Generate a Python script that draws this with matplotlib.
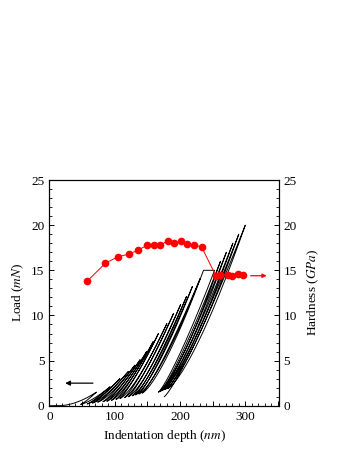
import numpy as np
import matplotlib
matplotlib.use("Agg")
import matplotlib.pyplot as plt
from matplotlib.ticker import MultipleLocator, FuncFormatter

plt.rcParams['font.family'] = ['Liberation Serif', 'DejaVu Serif']
plt.rcParams['mathtext.fontset'] = 'stix'

# multi-cycle load/unload: peaks (depth nm, load mN), and where each unload ends
peak_depth = [72, 93, 108, 121, 131, 139, 149, 159, 167, 180, 190, 201, 210, 219, 231,
              253, 262, 271, 281, 290, 300]
peak_load = [1.5, 2.1, 3.0, 3.8, 4.5, 5.1, 6.0, 7.1, 8.0, 9.1, 10.2, 11.2, 12.1, 13.2, 14.1,
             15.0, 16.0, 17.0, 18.0, 19.0, 20.0]
unload_depth = [48, 58, 66, 74, 82, 88, 95, 102, 108, 115, 121, 127, 132, 137, 142,
                167, 170, 173, 177, 181, 176]
unload_load = [0.15, 0.2, 0.3, 0.4, 0.45, 0.5, 0.6, 0.7, 0.8, 0.9, 1.0, 1.1, 1.2, 1.3, 1.4,
               1.5, 1.6, 1.7, 1.8, 1.9, 1.0]
start_depth = 15      # first contact
hold_load = 15.0      # creep hold segment
hold_from = 236

# hardness vs depth
hard_depth = [58, 86, 105, 122, 135, 150, 160, 170, 181, 191, 201, 211, 221, 233,
              255, 262, 273, 280, 289, 296]
hardness = [13.8, 15.8, 16.5, 16.8, 17.2, 17.8, 17.8, 17.75, 18.3, 18.0, 18.2, 17.9, 17.8, 17.6,
            14.4, 14.45, 14.5, 14.4, 14.6, 14.45]


def segment(h0, p0, h1, p1, m, n=60):
    h = np.linspace(h0, h1, n)
    p = p0 + (p1 - p0) * ((h - h0) / (h1 - h0)) ** m
    return h, p


fig = plt.figure(figsize=(3.49, 4.51), dpi=100)
ax = fig.add_axes([0.1413, 0.1004, 0.657, 0.5004])

# build the continuous load-depth trace
hs = [np.array([0.0, start_depth])]
ps = [np.array([0.0, 0.0])]
h, p = segment(start_depth, 0, peak_depth[0], peak_load[0], 1.8)
hs.append(h); ps.append(p)
for i in range(len(peak_depth)):
    if i > 0:
        if peak_load[i] == hold_load:
            h, p = segment(unload_depth[i - 1], unload_load[i - 1], hold_from, hold_load, 1.35)
            hs.append(h); ps.append(p)
            hs.append(np.array([hold_from, peak_depth[i]]))
            ps.append(np.array([hold_load, hold_load]))
        else:
            h, p = segment(unload_depth[i - 1], unload_load[i - 1], peak_depth[i], peak_load[i], 1.35)
            hs.append(h); ps.append(p)
    # unloading
    h, p = segment(unload_depth[i], unload_load[i], peak_depth[i], peak_load[i], 1.2)
    hs.append(h[::-1]); ps.append(p[::-1])

ax.plot(np.concatenate(hs), np.concatenate(ps), color='black', lw=0.7)

ax.set_xlim(0, 351)
ax.set_ylim(0, 25)
ax.xaxis.set_major_locator(MultipleLocator(50))
ax.xaxis.set_minor_locator(MultipleLocator(10))
ax.xaxis.set_major_formatter(FuncFormatter(lambda v, _: f"{int(v)}" if v % 100 == 0 else ""))
ax.yaxis.set_major_locator(MultipleLocator(5))
ax.yaxis.set_minor_locator(MultipleLocator(1))
ax.tick_params(which='both', direction='in', top=False, right=False, labelsize=9.5)
ax.tick_params(which='major', length=3.5, width=0.7)
ax.tick_params(which='minor', length=2, width=0.6)
for s in ax.spines.values():
    s.set_linewidth(0.8)
ax.set_xlabel('Indentation depth ($nm$)', fontsize=9.5, labelpad=4)
ax.set_ylabel('Load ($mN$)', fontsize=9.5, labelpad=4)

ax.annotate('', xy=(20, 2.5), xytext=(71, 2.5),
            arrowprops=dict(arrowstyle='-|>', color='black', lw=0.9, mutation_scale=7))

ax2 = ax.twinx()
ax2.plot(hard_depth, hardness, color='red', lw=0.7, marker='o', ms=4.5)
ax2.set_ylim(0, 25)
ax2.yaxis.set_major_locator(MultipleLocator(5))
ax2.yaxis.set_minor_locator(MultipleLocator(1))
ax2.tick_params(which='both', direction='in', labelsize=9.5)
ax2.tick_params(which='major', length=3.5, width=0.7)
ax2.tick_params(which='minor', length=2, width=0.6)
ax2.set_ylabel('Hardness ($GPa$)', fontsize=9.5, labelpad=6)
ax2.annotate('', xy=(337, 14.4), xytext=(304, 14.4),
             arrowprops=dict(arrowstyle='-|>', color='red', lw=0.9, mutation_scale=6))

fig.savefig('out.png', dpi=100)
